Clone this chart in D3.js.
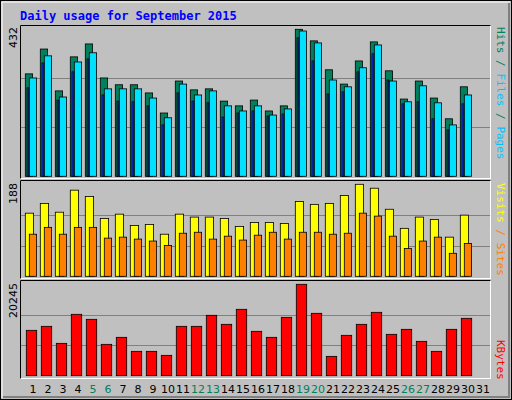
<!DOCTYPE html><html><head><script src="https://cdn.jsdelivr.net/npm/d3@7"></script>
<style>body{margin:0;background:#fff}</style></head><body><svg id="c" width="512" height="400"></svg>
<script>
const days=d3.range(1,32);
const weekend=[5,6,12,13,19,20,26,27];
const hits=[301,374,251,351,389,289,269,269,245,186,280,254,257,221,207,224,192,207,432,398,313,271,339,395,310,227,280,230,169,263,0];
const files=[289,354,233,336,363,257,257,257,230,172,271,239,251,207,192,207,180,198,427,392,283,263,319,386,280,219,266,216,151,239,0];
const pages=[260,333,224,307,345,239,221,219,207,151,245,221,216,174,186,192,177,183,407,339,242,248,307,360,283,213,219,169,136,213,0];
const visits=[129,149,131,176,163,118,127,104,106,86,127,121,121,118,102,110,110,108,153,147,149,165,188,180,137,98,121,116,80,125,0];
const sites=[86,100,86,100,100,78,80,76,72,63,88,90,76,82,74,84,90,76,90,90,86,88,129,123,82,57,72,80,47,67,0];
const kbytes=[10050,10937,7168,13598,12489,6947,8499,5395,5395,4508,10937,10937,13376,11381,14706,9829,8499,12933,20245,13819,4286,8942,11381,14041,9164,10272,7612,5395,10272,12711,0];
const maxHits=432,maxVisits=188,maxK=20245;
const svg=d3.select("#c");
svg.append("rect").attr("x",0.5).attr("y",0.5).attr("width",511).attr("height",399).attr("fill","#c0c0c0").attr("stroke","#000");
svg.append("path").attr("d","M2,398V2H510").attr("stroke","#fff").attr("fill","none");
svg.append("path").attr("d","M3,397H509V3").attr("stroke","#808080").attr("fill","none").attr("stroke-width",2);
svg.append("text").attr("x",20).attr("y",20).text("Daily usage for September 2015").attr("font-family","DejaVu Sans Mono").attr("font-weight","bold").attr("font-size",12).attr("fill","#0000ff");
const x=d3.scaleLinear().domain([1,2]).range([25.3,40.3]);
function panel(y0,y1){
  svg.append("rect").attr("x",20.5).attr("y",y0+0.5).attr("width",470).attr("height",y1-y0).attr("fill","none").attr("stroke","#fff");
  svg.append("path").attr("d",`M20.5,${y1+0.5}V${y0+0.5}H490.5`).attr("stroke","#000").attr("fill","none");
}
function grid(y,vals){vals.forEach(v=>svg.append("line").attr("x1",21).attr("x2",490).attr("y1",Math.round(y(v))+0.5).attr("y2",Math.round(y(v))+0.5).attr("stroke","#808080"));}
function bars(data,y,dx,w,fill){
  svg.append("g").selectAll("rect").data(data.map((v,i)=>[i+1,v]).filter(d=>d[1]>0)).join("rect")
   .attr("x",d=>x(d[0])+dx).attr("width",w).attr("y",d=>y(d[1])).attr("height",d=>y(0)-y(d[1]))
   .attr("fill",fill).attr("stroke","#000").attr("stroke-width",0.8);
}
function rlabel(xp,yp,parts,anchor){
  const t=svg.append("text").attr("transform",`translate(${xp},${yp}) rotate(90)`).attr("font-family","DejaVu Sans Mono").attr("font-size",11).attr("text-anchor",anchor||"end");
  parts.forEach(p=>t.append("tspan").text(p[0]).attr("fill",p[1]));
}
function maxlabel(yp,txt){svg.append("text").attr("transform",`translate(17,${yp}) rotate(-90)`).attr("text-anchor","end").attr("font-family","DejaVu Sans").attr("font-size",11).attr("fill","#000").text(txt);}
// top panel
const y1=d3.scaleLinear().domain([0,maxHits]).range([176.3,29.3]);
svg.append("rect").attr("x",21).attr("y",25).attr("width",469).attr("height",153).attr("fill","#c0c0c0");
grid(y1,[maxHits/3,2*maxHits/3]);
bars(hits,y1,0,7.3,"#00805c");
bars(files,y1,4,7.3,"#00e0ff");
bars(pages,y1,1.7,1.8,"#0040ff");
panel(25,178);
maxlabel(27,"432");
rlabel(497,27,[["Hits","#00805c"],[" / ","#00805c"],["Files","#00c0ff"],[" / ","#00805c"],["Pages","#00c0ff"]],"start");
// middle
const y2=d3.scaleLinear().domain([0,maxVisits]).range([276.3,184.3]);
grid(y2,[maxVisits/3,2*maxVisits/3]);
bars(visits,y2,0,8.3,"#ffff00");
bars(sites,y2,4,7.3,"#ff8000");
panel(180,278);
maxlabel(183,"188");
rlabel(497,183,[["Visits","#ffff00"],[" / ","#ff8000"],["Sites","#ff8000"]],"start");
// bottom
const y3=d3.scaleLinear().domain([0,maxK]).range([375.7,284.3]);
grid(y3,[maxK/3,2*maxK/3]);
bars(kbytes,y3,1,10.4,"#ff0000");
panel(280,378);
maxlabel(283,"20245");
rlabel(497,340,[["KBytes","#ff0000"]],"start");
// day labels
svg.append("g").selectAll("text").data(days).join("text").attr("x",d=>x(d)+7.7).attr("y",393)
 .attr("text-anchor","middle").attr("font-family","DejaVu Sans").attr("font-size",11)
 .attr("fill",d=>weekend.includes(d)?"#00805c":"#000").text(d=>d);
</script></body></html>
